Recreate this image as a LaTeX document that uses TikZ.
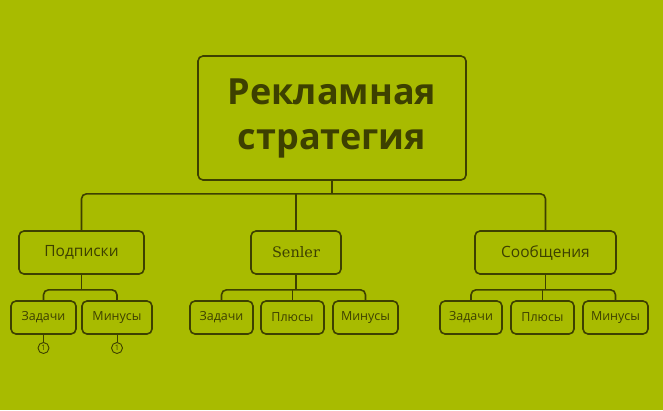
\documentclass[tikz,border=0pt]{standalone}
\usepackage{fontspec}
\usetikzlibrary{calc}
\setmainfont{Open Sans}
\newfontfamily\serifx{DejaVu Serif}
\begin{document}
\begin{tikzpicture}[x=1pt,y=-1pt,
  bx/.style={draw=ln,line width=1.6pt,rounded corners=5pt,text=tx,inner sep=0pt},
  l3/.style={bx,minimum height=33pt,font=\fontsize{12.5}{14}\selectfont},
  l2/.style={bx,minimum height=43pt,font=\fontsize{15.5}{18}\selectfont},
  ed/.style={draw=ln,line width=1.6pt,rounded corners=5pt},
  cn/.style={circle,draw=ln,line width=0.9pt,minimum size=11pt,inner sep=0pt,font=\fontsize{7.5}{8}\selectfont,text=tx}]
\definecolor{bg}{HTML}{A8BB00}
\definecolor{ln}{HTML}{3D4000}
\definecolor{tx}{HTML}{3D4000}
\fill[bg] (0,0) rectangle (663,410);
\useasboundingbox (0,0) rectangle (663,410);
\node[bx,minimum width=268pt,minimum height=124pt,align=center,font=\fontsize{36}{45}\selectfont\bfseries] (root) at (332,118) {Рекламная\\стратегия};
\node[l2,minimum width=125pt] (p) at (81.5,252.5) {Подписки};
\node[l2,minimum width=90pt,font=\serifx\fontsize{14.5}{17}\selectfont] (s) at (296,252.5) {Senler};
\node[l2,minimum width=141pt] (c) at (545.5,252.5) {Сообщения};
\node[l3,minimum width=65pt] (p1) at (43.5,317.5) {Задачи};
\node[l3,minimum width=70pt] (p2) at (117,317.5) {Минусы};
\node[l3,minimum width=63pt] (s1) at (221.5,317.5) {Задачи};
\node[l3,minimum width=63pt] (s2) at (292.5,317.5) {Плюсы};
\node[l3,minimum width=65pt] (s3) at (365.5,317.5) {Минусы};
\node[l3,minimum width=62pt] (c1) at (471,317.5) {Задачи};
\node[l3,minimum width=63pt] (c2) at (542.5,317.5) {Плюсы};
\node[l3,minimum width=65pt] (c3) at (615.5,317.5) {Минусы};
\node[cn] (n1) at (43.5,348) {1};
\node[cn] (n2) at (117,348) {1};
\coordinate (j) at ($(root.south)+(0,13)$);
\draw[ln,line width=1.6pt] (root.south) -- (j);
\path[ed] (p.north) |- (j) -| (c.north);
\draw[ln,line width=1.6pt] (s.north) -- (s.north |- j);
\coordinate (jp) at ($(p.south)+(0,15)$);
\draw[ln,line width=1.6pt] (p.south) -- (jp);
\path[ed] (p1.north) |- (jp) -| (p2.north);
\coordinate (js) at ($(s.south)+(0,15)$);
\draw[ln,line width=1.6pt] (s.south) -- (js);
\path[ed] (s1.north) |- (js) -| (s3.north);
\draw[ln,line width=1.6pt] (s2.north) -- (s2.north |- js);
\coordinate (jc) at ($(c.south)+(0,15)$);
\draw[ln,line width=1.6pt] (c.south) -- (jc);
\path[ed] (c1.north) |- (jc) -| (c3.north);
\draw[ln,line width=1.6pt] (c2.north) -- (c2.north |- jc);
\draw[ln,line width=0.9pt] (p1.south) -- (n1.north);
\draw[ln,line width=0.9pt] (p2.south) -- (n2.north);
\end{tikzpicture}
\end{document}
